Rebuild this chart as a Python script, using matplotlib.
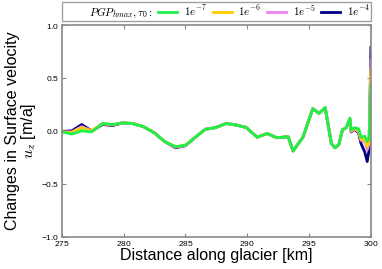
import numpy as np
import matplotlib
matplotlib.use('Agg')
import matplotlib.pyplot as plt
from matplotlib.lines import Line2D

plt.rcParams['font.family'] = ['Liberation Sans', 'DejaVu Sans']
plt.rcParams['mathtext.fontset'] = 'cm'
plt.rcParams['axes.formatter.use_mathtext'] = True

# distance along glacier [km]
dist = [275.0, 275.8, 276.6, 277.4, 278.3, 279.1, 279.9, 280.7, 281.6, 282.5,
        283.3, 284.2, 285.0, 285.8, 286.6, 287.4, 288.3, 289.1, 289.9, 290.8,
        291.6, 292.4, 293.3, 293.7, 294.5, 295.3, 295.8, 296.3, 296.8, 297.1,
        297.4, 297.7, 298.0, 298.3, 298.4, 298.7, 299.0, 299.2, 299.5, 299.7,
        299.85, 300.0]

# velocity change for each tau_0
du_1e7 = [-0.01, -0.03, 0.0, -0.01, 0.07, 0.06, 0.075, 0.07, 0.04, -0.02,
          -0.10, -0.15, -0.135, -0.06, 0.015, 0.03, 0.07, 0.055, 0.033, -0.06,
          -0.025, -0.065, -0.055, -0.19, -0.06, 0.21, 0.165, 0.22, -0.12, -0.16,
          -0.13, 0.01, 0.03, 0.12, 0.01, 0.03, 0.02, -0.06, -0.05, -0.10,
          -0.07, 0.43]
du_1e6 = [-0.01, -0.015, 0.03, 0.0, 0.07, 0.06, 0.075, 0.07, 0.04, -0.02,
          -0.10, -0.15, -0.135, -0.06, 0.015, 0.03, 0.07, 0.055, 0.033, -0.06,
          -0.025, -0.065, -0.055, -0.19, -0.06, 0.21, 0.165, 0.22, -0.12, -0.16,
          -0.13, 0.01, 0.03, 0.12, 0.0, 0.025, 0.0, -0.08, -0.08, -0.15,
          -0.10, 0.59]
du_1e5 = [-0.01, -0.01, 0.04, 0.0, 0.065, 0.055, 0.075, 0.07, 0.04, -0.02,
          -0.10, -0.155, -0.14, -0.06, 0.015, 0.03, 0.07, 0.055, 0.033, -0.06,
          -0.025, -0.065, -0.055, -0.19, -0.06, 0.21, 0.165, 0.22, -0.12, -0.16,
          -0.13, 0.01, 0.03, 0.115, -0.005, 0.02, -0.01, -0.09, -0.10, -0.18,
          -0.12, 0.67]
du_1e4 = [-0.005, 0.0, 0.06, 0.0, 0.06, 0.05, 0.075, 0.07, 0.04, -0.02,
          -0.10, -0.16, -0.14, -0.06, 0.015, 0.03, 0.07, 0.055, 0.033, -0.06,
          -0.025, -0.065, -0.055, -0.19, -0.06, 0.21, 0.165, 0.22, -0.12, -0.16,
          -0.13, 0.01, 0.03, 0.11, -0.01, 0.015, -0.02, -0.12, -0.20, -0.29,
          -0.18, 0.79]

labels = [r'$1e^{-7}$', r'$1e^{-6}$', r'$1e^{-5}$', r'$1e^{-4}$']
colors = ['#1cf04a', '#ffcc00', '#ee82ee', '#000080']

fig = plt.figure(figsize=(3.82, 2.69), dpi=100)
ax = fig.add_axes([0.162, 0.120, 0.809, 0.787])

series = [du_1e7, du_1e6, du_1e5, du_1e4]
handles = []
for vals, c, lab in zip(series[::-1], colors[::-1], labels[::-1]):
    h, = ax.plot(dist, vals, color=c, lw=2, label=lab)
    handles.insert(0, h)

blank = Line2D([], [], color='none')
ax.legend([blank] + handles, [r'$PGP_{hmax},\tau_0:$'] + labels,
          ncol=5, loc='lower left', bbox_to_anchor=(0, 1.019, 1, 0.08),
          mode='expand', borderaxespad=0, fontsize=8, fancybox=False,
          edgecolor='#888888', handlelength=1.7, handletextpad=0.6,
          columnspacing=0.4, borderpad=0.1)

ax.set_xlim(275, 300)
ax.set_ylim(-1, 1)
ax.set_xticks(np.arange(275, 301, 5))
ax.set_yticks(np.arange(-1, 1.01, 0.5))
ax.tick_params(direction='in', top=True, right=True, labelsize=6, length=3,
               color='#888888', pad=2)
for s in ax.spines.values():
    s.set_color('#888888')
    s.set_linewidth(1.2)

ax.set_xlabel('Distance along glacier [km]', fontsize=11.5, labelpad=0)
ax.set_ylabel('Changes in Surface velocity\n' + r'$u_z$ [m/a]', fontsize=11.5,
              labelpad=2, linespacing=0.9)

fig.savefig('out.png', dpi=100)
